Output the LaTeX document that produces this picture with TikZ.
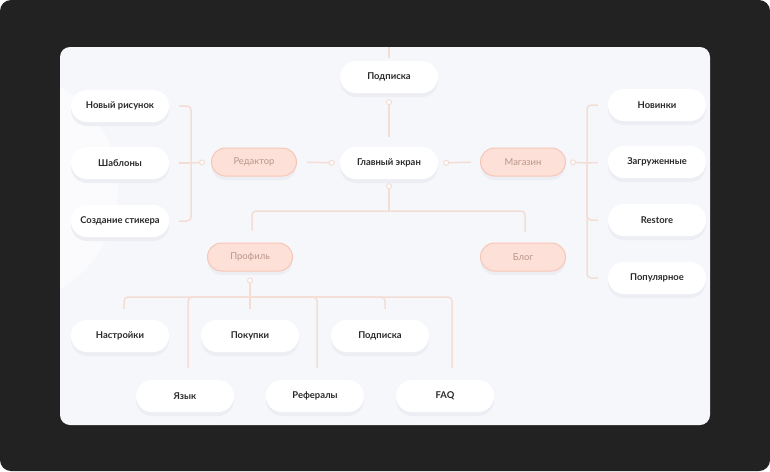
\documentclass[tikz,border=0pt]{standalone}
\usepackage{fontspec}
\setmainfont{Lato}
\usetikzlibrary{arrows.meta,shadows}
\definecolor{darkbg}{HTML}{222222}
\definecolor{panel}{HTML}{F6F7FB}
\definecolor{blob}{HTML}{FBFBFD}
\definecolor{linkc}{HTML}{F4DDD4}
\definecolor{tagfill}{HTML}{FDE0D7}
\definecolor{tagdraw}{HTML}{F6C6B6}
\definecolor{tagtext}{HTML}{B8958D}
\definecolor{boxtext}{HTML}{2A2A2A}
\definecolor{shadowc}{HTML}{EDEEF4}

\begin{document}
\begin{tikzpicture}[x=1pt,y=-1pt,
    box/.style={fill=white, rounded corners=16pt, minimum width=98pt, minimum height=32pt,
        inner sep=0pt, font=\fontsize{9.4}{11}\selectfont\bfseries, text=boxtext,
        drop shadow={shadow xshift=0pt, shadow yshift=-4pt, fill=shadowc, opacity=1}},
    tag/.style={fill=tagfill, draw=tagdraw, line width=1pt, rounded corners=14pt,
        minimum width=85pt, minimum height=28pt, inner sep=0pt,
        font=\fontsize{9.4}{11}\selectfont, text=tagtext,
        drop shadow={shadow xshift=0pt, shadow yshift=-4pt, fill=shadowc, opacity=1}},
    link/.style={draw=linkc, line width=1.5pt},
    dotted start/.style={{Circle[open,fill=white,length=6pt,width=6pt,line width=1pt]}-}]

    % frame and panel
    \fill [white] (0,0) rectangle (770,471);
    \fill [darkbg, rounded corners=11pt] (0,0) rectangle (770,471);
    \fill [panel, rounded corners=10pt] (60,47) rectangle (710,425);
    \begin{scope}
        \clip [rounded corners=10pt] (60,47) rectangle (710,425);
        \fill [blob] (0,188) circle (118);
    \end{scope}

    % centre
    \node [box] (subs) at (389,77) {Подписка};
    \node [box] (home) at (389,163) {Главный экран};
    \node [tag] (edit) at (254,162) {Редактор};
    \node [tag] (shop) at (523,162) {Магазин};
    \node [tag] (prof) at (250,257) {Профиль};
    \node [tag] (blog) at (523,257) {Блог};

    % editor items
    \node [box] (newpic) at (120,106) {Новый рисунок};
    \node [box] (tmpl) at (120,163) {Шаблоны};
    \node [box] (sticker) at (120,221) {Создание стикера};

    % shop items
    \node [box] (fresh) at (657,105) {Новинки};
    \node [box] (loaded) at (657,162) {Загруженные};
    \node [box] (restore) at (657,220) {Restore};
    \node [box] (popular) at (657,278) {Популярное};

    % profile items
    \node [box] (sett) at (120,336) {Настройки};
    \node [box] (purch) at (250,336) {Покупки};
    \node [box] (subs2) at (380,336) {Подписка};
    \node [box] (lang) at (185,396) {Язык};
    \node [box] (refs) at (315,396) {Рефералы};
    \node [box] (faq) at (445,396) {FAQ};

    \coordinate (top) at (389,47);
    \coordinate (ebar) at (191,163);
    \coordinate (sbar) at (587,163);
    \coordinate (hbus) at (389,211);
    \coordinate (pbus) at (250,297);

    % links
    \draw [link, shorten >=3pt] (top) -- (subs.north);
    \draw [link, dotted start, shorten <=6pt, shorten >=10pt] (subs.south) -- (home.north);
    \draw [link, dotted start, shorten <=5pt, shorten >=10pt] (home.west) -- (edit.east);
    \draw [link, dotted start, shorten <=5pt, shorten >=9pt] (home.east) -- (shop.west);
    \draw [link, dotted start, shorten <=4pt] (home.south) -- (hbus);
    \draw [link, rounded corners=4pt, shorten >=12pt] (hbus) -| ([xshift=2pt]prof.north);
    \draw [link, rounded corners=4pt, shorten >=11pt] (hbus) -| ([xshift=2pt]blog.north);

    \draw [link, dotted start, shorten <=6pt] (edit.west) -- (ebar);
    \draw [link, rounded corners=4pt, shorten >=10pt] (ebar) |- (newpic.east);
    \draw [link, shorten >=10pt] (ebar) -- (tmpl.east);
    \draw [link, rounded corners=4pt, shorten >=10pt] (ebar) |- (sticker.east);

    \draw [link, dotted start, shorten <=4pt] (shop.east) -- (sbar);
    \draw [link, rounded corners=4pt, shorten >=10pt] (sbar) |- (fresh.west);
    \draw [link, shorten >=10pt] (sbar) -- (loaded.west);
    \draw [link, rounded corners=4pt, shorten >=10pt] (sbar) |- (restore.west);
    \draw [link, rounded corners=4pt, shorten >=10pt] (sbar) |- (popular.west);

    \draw [link, dotted start, shorten <=6pt, shorten >=11pt] (prof.south) -- (purch.north);
    \draw [link, rounded corners=4pt, shorten >=11pt] (pbus) -| ([xshift=4pt]sett.north);
    \draw [link, rounded corners=4pt, shorten >=12pt] (pbus) -| ([xshift=3pt]lang.north);
    \draw [link, rounded corners=4pt, shorten >=12pt] (pbus) -| ([xshift=2pt]refs.north);
    \draw [link, rounded corners=4pt, shorten >=11pt] (pbus) -| ([xshift=5pt]subs2.north);
    \draw [link, rounded corners=4pt, shorten >=12pt] (pbus) -| ([xshift=7pt]faq.north);
\end{tikzpicture}
\end{document}
